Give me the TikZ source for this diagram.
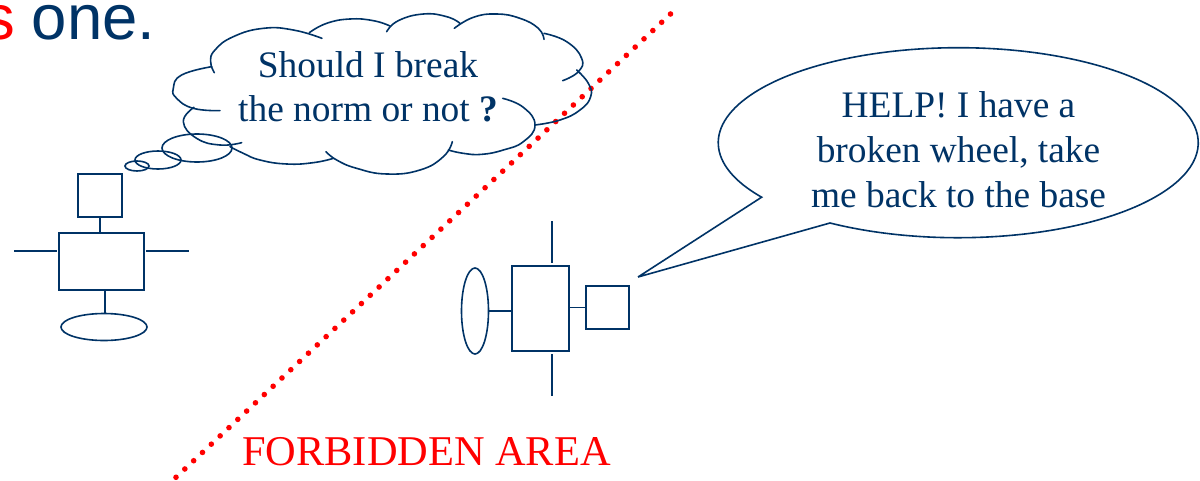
\documentclass[tikz,border=0pt]{standalone}
\usepackage{fontspec}
\setmainfont{Liberation Serif}
\newfontfamily\arialfont{Liberation Sans}
\usetikzlibrary{shapes.geometric}
\definecolor{navy}{RGB}{0,51,102}
\tikzset{
  ink/.style={draw=navy,line width=1.6pt},
  part/.style={ink,rectangle,inner sep=0pt,outer sep=0pt},
  wheel/.style={ink,ellipse,inner sep=0pt,outer sep=0pt},
  lobe/.style={ink,line cap=round,smooth,tension=0.8},
  label/.style={text=navy,font=\fontsize{37.4}{37.4}\selectfont,anchor=base,inner sep=0pt},
}
\begin{document}
\begin{tikzpicture}[x=1pt,y=-1pt]
\useasboundingbox (0,0) rectangle (1200,480);
\fill[white] (0,0) rectangle (1200,480);
% heading fragment
\begin{scope}
\clip (0,0) rectangle (1200,480);
\node[anchor=base east,inner sep=0pt,text=red,font=\arialfont\fontsize{63.5}{63.5}\selectfont] (headS) at (15,39) {s};
\end{scope}
\node[anchor=base west,inner sep=0pt,text=navy,font=\arialfont\fontsize{63.5}{63.5}\selectfont] (headOne) at (31.5,39) {one.};
% dotted boundary
\coordinate (lineA) at (670.5,14);
\coordinate (lineB) at (172,481);
\draw[red,line width=5.6pt,line cap=round,dash pattern=on 0pt off 12.1pt] (lineA) -- (lineB);
% thought cloud
\begin{scope}[shift={(120,0)},x=0.33333pt,y=-0.33333pt]
\draw[lobe] plot coordinates {(606,115)(520,90)(430,85)(340,110)(285,150)(272,185)(283,218)};
\draw[lobe] plot coordinates {(568,98)(620,70)(690,57)(760,62)(810,78)};
\draw[lobe] plot coordinates {(800,95)(835,62)(910,42)(980,50)(1020,70)};
\draw[lobe] plot coordinates {(1003,85)(1060,52)(1130,42)(1200,55)(1255,85)(1272,118)};
\draw[lobe] plot coordinates {(1272,100)(1340,125)(1385,175)(1375,215)(1328,242)};
\draw[lobe] plot coordinates {(1370,210)(1405,250)(1412,290)(1380,330)(1320,360)(1245,375)};
\draw[lobe] plot coordinates {(1148,295)(1210,322)(1245,375)(1210,425)(1150,450)(1085,463)(1030,460)(985,450)};
\draw[lobe] plot coordinates {(997,425)(970,470)(900,510)(800,522)(710,505)(650,480)(618,455)};
\draw[lobe] plot coordinates {(640,475)(580,488)(500,492)(420,480)(370,460)(330,440)};
\draw[lobe] plot coordinates {(365,428)(300,435)(230,415)(190,365)(222,322)};
\draw[lobe] plot coordinates {(300,332)(220,325)(170,295)(160,265)(185,225)(275,200)};
\end{scope}
\node[wheel,minimum width=70pt,minimum height=28pt] (bubbleA) at (197,148) {};
\node[wheel,minimum width=46pt,minimum height=18pt] (bubbleB) at (158,160) {};
\node[wheel,minimum width=24pt,minimum height=10pt] (bubbleC) at (137,166) {};
\node[label] (t1) at (368,77) {Should I break};
\node[label] (t2) at (368,121) {the norm or not \textbf{?}};
% left robot
\node[part,minimum width=44pt,minimum height=43pt] (headL) at (100,195.5) {};
\node[part,minimum width=85pt,minimum height=57pt] (bodyL) at (101.5,261.5) {};
\node[wheel,minimum width=86pt,minimum height=27pt] (wheelL) at (104,327) {};
\coordinate (armLa) at (14,251);
\coordinate (armLb) at (57,251);
\coordinate (armRa) at (146,251);
\coordinate (armRb) at (189,251);
\draw[ink] (headL.south) -- (headL.south |- bodyL.north);
\draw[ink] ([xshift=1pt]wheelL.north |- bodyL.south) -- ([xshift=1pt]wheelL.north);
\draw[ink] (armLa) -- (armLb);
\draw[ink] (armRa) -- (armRb);
% right robot
\node[part,minimum width=57pt,minimum height=85pt] (bodyR) at (540.5,308.5) {};
\node[part,minimum width=43pt,minimum height=43pt] (headR) at (607.5,307.5) {};
\node[wheel,minimum width=27pt,minimum height=86pt] (wheelR) at (475,311) {};
\coordinate (armTa) at (552,221);
\coordinate (armTb) at (552,263);
\coordinate (armBa) at (552,354);
\coordinate (armBb) at (552,396);
\draw[ink] (headR.west) -- (headR.west -| bodyR.east);
\draw[ink] (wheelR.east) -- (wheelR.east -| bodyR.west);
\draw[ink] (armTa) -- (armTb);
\draw[ink] (armBa) -- (armBb);
% speech callout
\coordinate (tip) at (638,277);
\coordinate (calloutA) at (830,223);
\draw[ink,line join=miter] (tip) -- (calloutA) arc[start angle=237.7,end angle=575,x radius=240pt,y radius=95pt] -- (tip);
\node[label] (t3) at (958.5,117) {HELP! I have a};
\node[label] (t4) at (958.5,162) {broken wheel, take};
\node[label] (t5) at (958.5,207) {me back to the base};
\node[anchor=base,inner sep=0pt,text=red,font=\fontsize{42.4}{42.4}\selectfont] (t6) at (426.5,465) {FORBIDDEN AREA};
\end{tikzpicture}
\end{document}
